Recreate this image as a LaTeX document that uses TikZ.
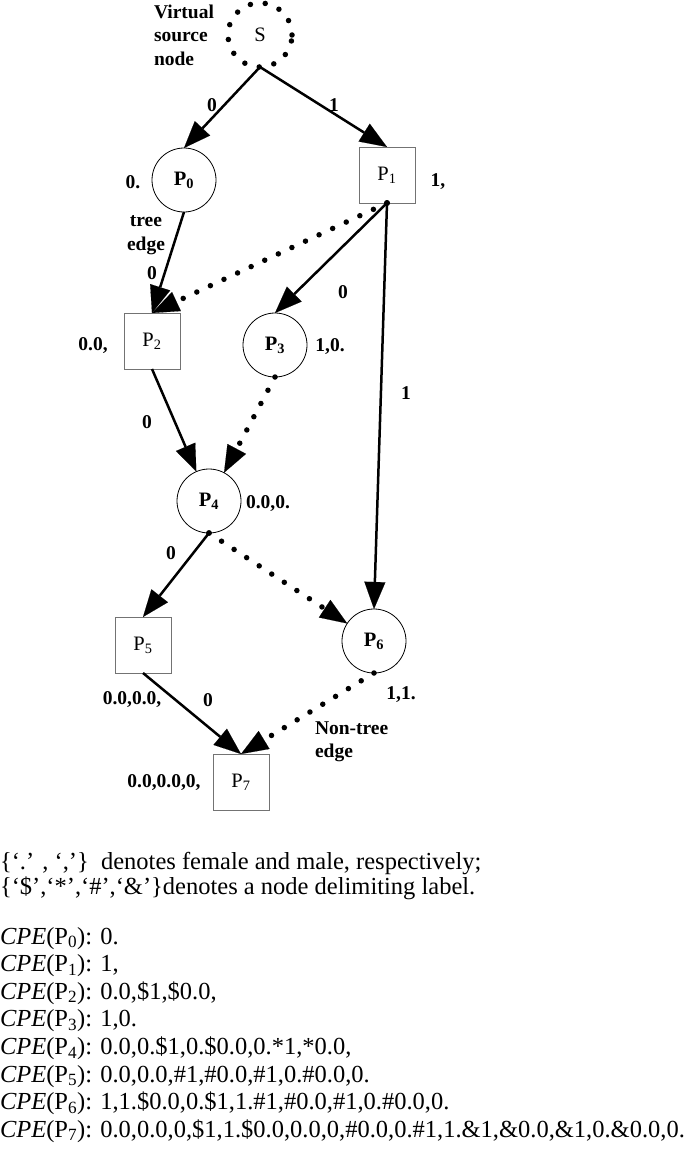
\documentclass[tikz,border=0pt]{standalone}
\usepackage{fontspec}
\setmainfont{Liberation Serif}
\usetikzlibrary{arrows.meta}
\begin{document}
\begin{tikzpicture}[x=1pt,y=-1pt,
  every node/.style={outer sep=0pt},
  circ/.style={circle,draw=black,line width=0.8pt,minimum size=64pt,inner sep=0pt,font=\fontsize{20.5}{22}\selectfont\bfseries},
  sq/.style={rectangle,draw=black!55,line width=1pt,minimum size=56pt,inner sep=0pt,font=\fontsize{20.5}{22}\selectfont},
  lab/.style={font=\fontsize{19.5}{23.5}\selectfont\bfseries,inner sep=0pt},
  txt/.style={font=\fontsize{24.5}{28}\selectfont,inner sep=0pt,anchor=base west},
  treeedge/.style={line width=2.5pt,-{Triangle[length=27pt,width=21pt,line width=0.1pt]}},
  ntedge/.style={line width=5.5pt,line cap=round,dash pattern=on 0pt off 15pt,-{Triangle[length=27pt,width=21pt,line width=0.1pt]}},
  tail/.style={fill=black}
]
\useasboundingbox (0,0) rectangle (685,1156);

% nodes
\node[circle,minimum size=64pt,inner sep=0pt,draw,line width=5.5pt,line cap=round,dash pattern=on 0pt off 15pt] (S) at (260,35) {};
\node[font=\fontsize{20.5}{22}\selectfont] (Stext) at (260,35) {S};
\node[circ] (P0) at (184,180) {P\textsubscript{0}};
\node[sq]   (P1) at (387,175) {P\textsubscript{1}};
\node[sq]   (P2) at (152,341) {P\textsubscript{2}};
\node[circ] (P3) at (275,345) {P\textsubscript{3}};
\node[circ] (P4) at (209,501) {P\textsubscript{4}};
\node[sq]   (P5) at (143,645) {P\textsubscript{5}};
\node[circ] (P6) at (374,641) {P\textsubscript{6}};
\node[sq]   (P7) at (241,782) {P\textsubscript{7}};

% edges
\draw[treeedge] (S.south) -- (P0.north);
\draw[treeedge] (S.south) -- (P1.north);
\draw[treeedge] (P0.south) -- (P2.north);
\draw[ntedge] (P1.south) -- (P2.north);
\draw[treeedge] (P1.south) -- (P3.north);
\draw[treeedge] (P1.south) -- (P6.north);
\draw[treeedge] (P2.south) -- (P4);
\draw[ntedge] (P3.south) -- (P4);
\draw[treeedge] (P4.south) -- (P5.north);
\draw[ntedge] (P4.south) -- (P6);
\draw[treeedge] (P5.south) -- (P7.north);
\draw[ntedge] (P6.south) -- (P7.north);
\fill[tail] (P1.south) circle (3pt);
\fill[tail] (P4.south) circle (2.8pt);

% labels
\node[lab,align=left,anchor=west] (vs) at (154,35) {Virtual\\source\\node};
\node[lab] (l01) at (212,105) {0};
\node[lab] (l02) at (334,105) {1};
\node[lab] (c0) at (133,182) {0.};
\node[lab] (c1) at (438,182) {1,};
\node[lab,align=center] (te) at (146,235) {tree\\edge};
\node[lab] (l03) at (152,273) {0};
\node[lab] (c2) at (93,346) {0.0,};
\node[lab] (c3) at (330,347) {1,0.};
\node[lab] (l04) at (343,292) {0};
\node[lab] (l05) at (406,393) {1};
\node[lab] (l06) at (147,422) {0};
\node[lab] (c4) at (268,504) {0.0,0.};
\node[lab] (l07) at (171,553) {0};
\node[lab] (c5) at (132,700) {0.0,0.0,};
\node[lab] (l08) at (208,700) {0};
\node[lab] (c6) at (401,695) {1,1.};
\node[lab,align=left,anchor=west] (nt) at (315,742) {Non-tree\\edge};
\node[lab] (c7) at (164,783) {0.0,0.0,0,};

% legend
\node[txt] (g1) at (0,869) {\{‘.’ , ‘,’\}\ \ denotes female and male, respectively;};
\node[txt] (g2) at (0,894) {\{‘\$’,‘*’,‘\#’,‘\&’\}denotes a node delimiting label.};
\node[txt] (e0) at (0,944) {\textit{CPE}(P\textsubscript{0}): 0.};
\node[txt] (e1) at (0,971.6) {\textit{CPE}(P\textsubscript{1}): 1,};
\node[txt] (e2) at (0,999.2) {\textit{CPE}(P\textsubscript{2}): 0.0,\$1,\$0.0,};
\node[txt] (e3) at (0,1026.8) {\textit{CPE}(P\textsubscript{3}): 1,0.};
\node[txt] (e4) at (0,1054.4) {\textit{CPE}(P\textsubscript{4}): 0.0,0.\$1,0.\$0.0,0.*1,*0.0,};
\node[txt] (e5) at (0,1082) {\textit{CPE}(P\textsubscript{5}): 0.0,0.0,\#1,\#0.0,\#1,0.\#0.0,0.};
\node[txt] (e6) at (0,1109.6) {\textit{CPE}(P\textsubscript{6}): 1,1.\$0.0,0.\$1,1.\#1,\#0.0,\#1,0.\#0.0,0.};
\node[txt] (e7) at (0,1137.2) {\textit{CPE}(P\textsubscript{7}): 0.0,0.0,0,\$1,1.\$0.0,0.0,0,\#0.0,0.\#1,1.\&1,\&0.0,\&1,0.\&0.0,0.};
\end{tikzpicture}
\end{document}
